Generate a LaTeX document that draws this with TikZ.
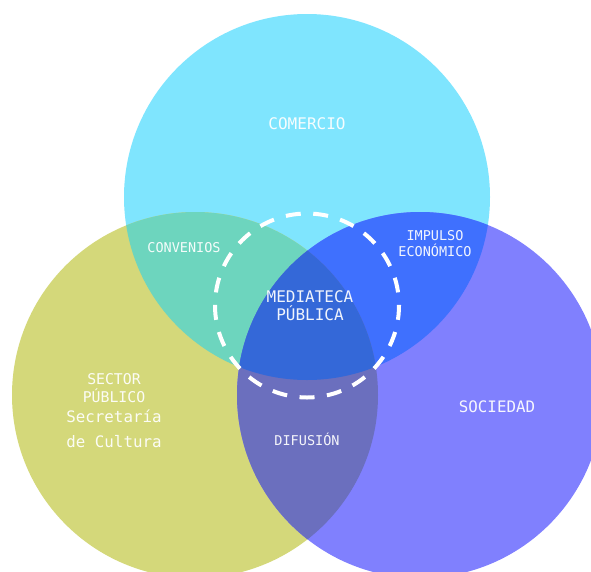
\documentclass[tikz,border=0pt]{standalone}
\usepackage{fontspec}
\setmonofont{DejaVu Sans Mono}
\definecolor{cC}{HTML}{7FE5FE}
\definecolor{cO}{HTML}{D4D87A}
\definecolor{cP}{HTML}{8080FE}
\definecolor{cCO}{HTML}{6DD5BE}
\definecolor{cCP}{HTML}{3F70FE}
\definecolor{cOP}{HTML}{6B6FBE}
\definecolor{cCOP}{HTML}{3468D8}
\tikzset{
  lbl/.style={text=white, text opacity=0.93, font=\ttfamily, align=center, inner sep=0pt},
  ringline/.style={draw=white, line width=4pt, dash pattern=on 15pt off 12.526pt, dash phase=7.5pt},
}
\begin{document}
\begin{tikzpicture}[x=1pt,y=-1pt]
\useasboundingbox (0,0) rectangle (591,571);
\begin{scope}
\clip (0,0) rectangle (591,571);
\fill[cC] (307,197) circle (183);
\fill[cO] (195,395) circle (183);
\fill[cP] (420,395) circle (183);
\begin{scope}
  \clip (307,197) circle (183);
  \fill[cCO] (195,395) circle (183);
  \fill[cCP] (420,395) circle (183);
\end{scope}
\begin{scope}
  \clip (195,395) circle (183);
  \fill[cOP] (420,395) circle (183);
  \clip (307,197) circle (183);
  \fill[cCOP] (420,395) circle (183);
\end{scope}
\end{scope}
\coordinate (ringc) at (307,305.5);
\draw[ringline] ([shift={(90:92)}]ringc) arc[start angle=90, end angle=450, radius=92];
\node[lbl, font=\ttfamily\fontsize{16}{18}\selectfont] (comercio) at (307,124) {COMERCIO};
\node[lbl, font=\ttfamily\fontsize{13.5}{16}\selectfont] (convenios) at (184,248) {CONVENIOS};
\node[lbl, font=\ttfamily\fontsize{13.5}{16}\selectfont] (impulso) at (435,244) {IMPULSO\\ECONÓMICO};
\node[lbl, font=\ttfamily\fontsize{16}{18}\selectfont] (mediateca) at (310,306) {MEDIATECA\\PÚBLICA};
\node[lbl, font=\ttfamily\fontsize{14.8}{18}\selectfont] (sector) at (114,388) {SECTOR\\PÚBLICO};
\node[lbl, font=\ttfamily\fontsize{15.8}{25}\selectfont] (secret) at (114,429) {Secretaría\\de Cultura};
\node[lbl, font=\ttfamily\fontsize{15.8}{18}\selectfont] (sociedad) at (497,407) {SOCIEDAD};
\node[lbl, font=\ttfamily\fontsize{13.5}{16}\selectfont] (difusion) at (307,439) {DIFUSIÓN};
\end{tikzpicture}
\end{document}
